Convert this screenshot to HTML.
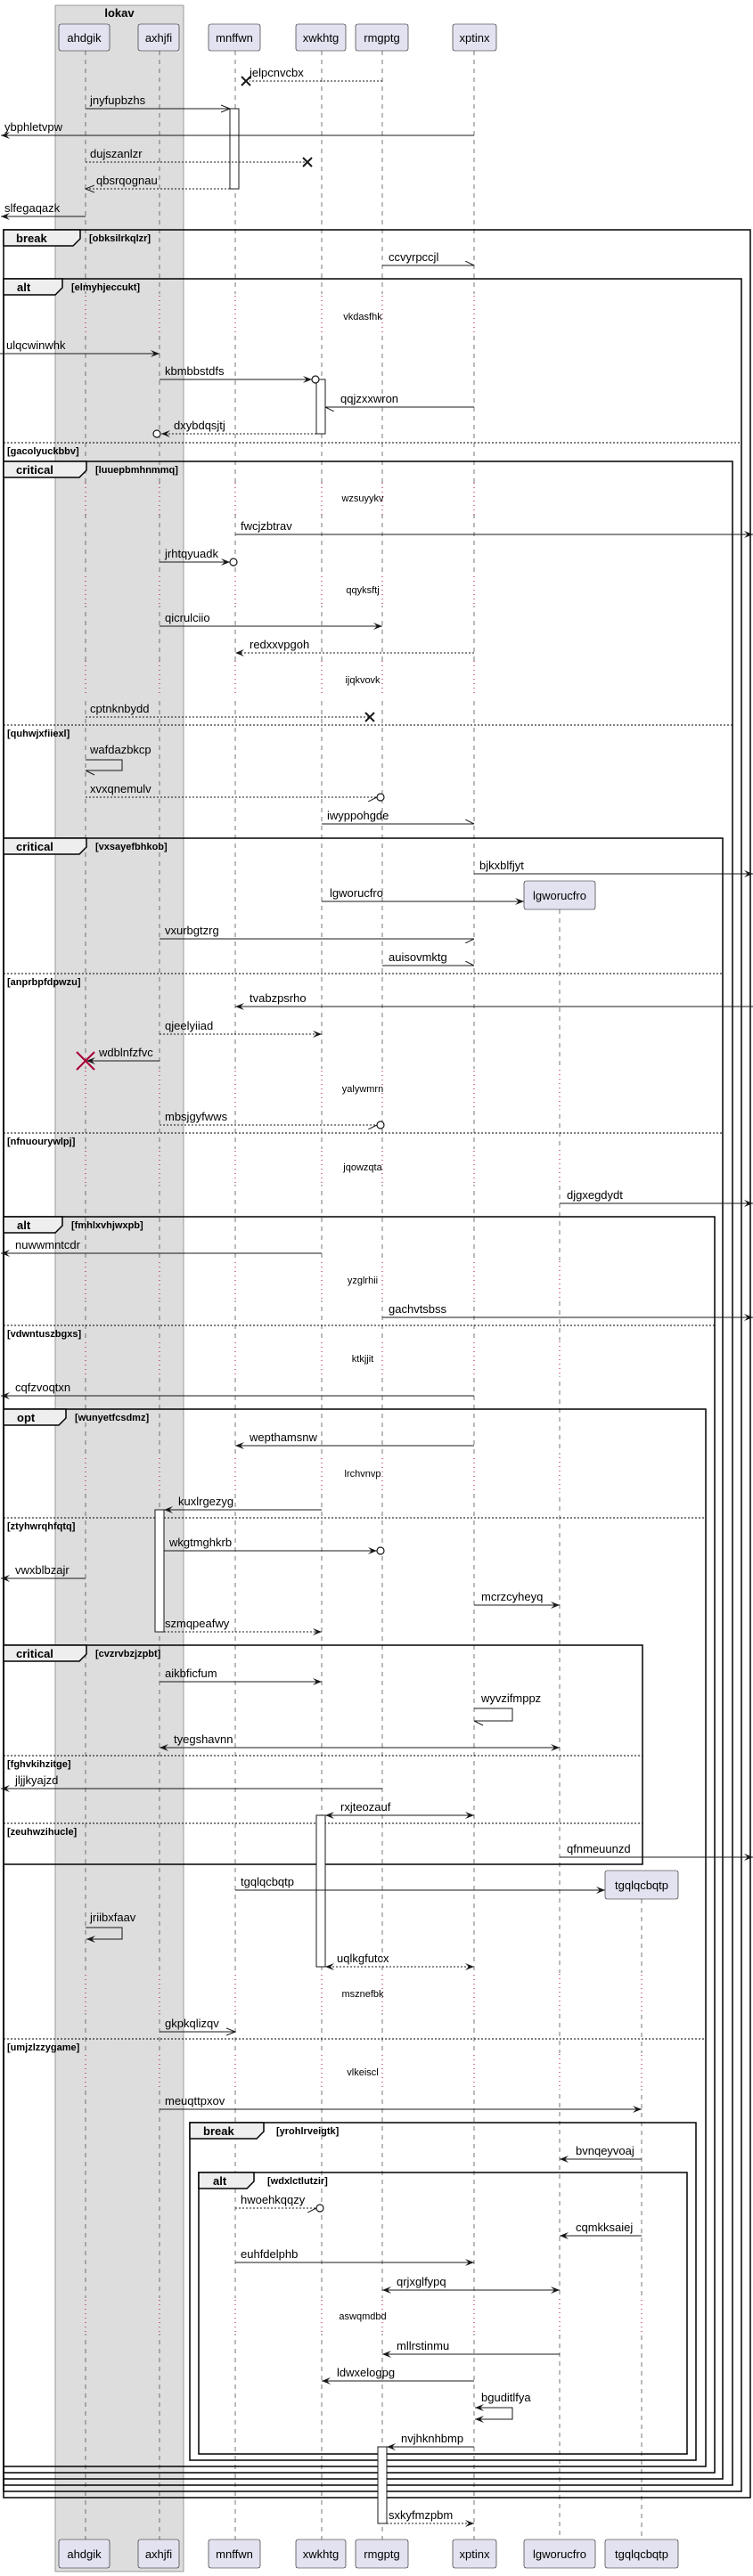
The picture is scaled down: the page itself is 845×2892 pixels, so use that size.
<!DOCTYPE html>
<html><head><meta charset="utf-8"><style>
html,body{margin:0;padding:0;background:#fff}
svg{display:block}
text{font-family:"Liberation Sans",sans-serif;fill:#000}
.m{font-size:13px}
.d{font-size:11px}
.fb{font-size:13px;font-weight:bold}
.fc{font-size:11px;font-weight:bold}
.p{font-size:13px}
.s{stroke:#181818;stroke-width:1;fill:none}
.ds{stroke:#181818;stroke-width:1;fill:none;stroke-dasharray:2,2}
.fr{fill:none;stroke:#000;stroke-width:1.5}
.el{stroke:#000;stroke-width:1;stroke-dasharray:2,2}
.tab{fill:#EEEEEE;stroke:#000;stroke-width:1.5}
.pb{fill:#E2E2F0;stroke:#181818;stroke-width:0.6}
.act{fill:#fff;stroke:#181818;stroke-width:1}
</style></head><body>
<svg width="845" height="2892" viewBox="0 0 845 2892" xmlns="http://www.w3.org/2000/svg">
<defs>
<marker id="fa" markerUnits="userSpaceOnUse" markerWidth="12" markerHeight="10" refX="10" refY="5" orient="auto-start-reverse"><path d="M0,1 L10,5 L0,9 L4,5 Z" fill="#181818"/></marker>
<marker id="oa" markerUnits="userSpaceOnUse" markerWidth="12" markerHeight="10" refX="10" refY="5" orient="auto"><path d="M0,1 L10,5 L0,9" fill="none" stroke="#181818"/></marker>
<marker id="hu" markerUnits="userSpaceOnUse" markerWidth="12" markerHeight="10" refX="10" refY="5" orient="auto"><path d="M0,0 L10,5" fill="none" stroke="#181818"/></marker>
<marker id="hl" markerUnits="userSpaceOnUse" markerWidth="12" markerHeight="10" refX="10" refY="5" orient="auto"><path d="M0,10 L10,5" fill="none" stroke="#181818"/></marker>
<mask id="nod"><rect x="0" y="0" width="845" height="2892" fill="#fff"/>
<g fill="#000">
<rect x="0" y="330" width="845" height="43"/><rect x="0" y="542" width="845" height="36"/><rect x="0" y="643" width="845" height="37"/><rect x="0" y="742" width="845" height="40"/><rect x="0" y="1200" width="845" height="45"/><rect x="0" y="1290" width="845" height="40"/><rect x="0" y="1415" width="845" height="45"/><rect x="0" y="1505" width="845" height="40"/><rect x="0" y="1633" width="845" height="42"/><rect x="0" y="2215" width="845" height="45"/><rect x="0" y="2305" width="845" height="40"/><rect x="0" y="2580" width="845" height="40"/>
</g></mask>
<clipPath id="dly">
<rect x="0" y="330" width="845" height="43"/><rect x="0" y="542" width="845" height="36"/><rect x="0" y="643" width="845" height="37"/><rect x="0" y="742" width="845" height="40"/><rect x="0" y="1200" width="845" height="45"/><rect x="0" y="1290" width="845" height="40"/><rect x="0" y="1415" width="845" height="45"/><rect x="0" y="1505" width="845" height="40"/><rect x="0" y="1633" width="845" height="42"/><rect x="0" y="2215" width="845" height="45"/><rect x="0" y="2305" width="845" height="40"/><rect x="0" y="2580" width="845" height="40"/>
</clipPath>
</defs>

<!-- lokav box -->
<rect x="62" y="6" width="144" height="2881" fill="#DDDDDD" stroke="#888" stroke-width="0.8"/>
<text x="134" y="19" class="fb" text-anchor="middle">lokav</text>

<!-- lifelines dashed -->
<g mask="url(#nod)" stroke="#555" stroke-width="0.8" stroke-dasharray="5,5">
<line x1="96" y1="57" x2="96" y2="2851"/><line x1="179" y1="57" x2="179" y2="2851"/><line x1="264" y1="57" x2="264" y2="2851"/><line x1="361" y1="57" x2="361" y2="2851"/><line x1="429" y1="57" x2="429" y2="2851"/><line x1="532" y1="57" x2="532" y2="2851"/><line x1="628" y1="1021" x2="628" y2="2851"/><line x1="720" y1="2132" x2="720" y2="2851"/>
</g>
<g clip-path="url(#dly)" stroke="#A80036" stroke-width="1" stroke-dasharray="1,4">
<line x1="96" y1="57" x2="96" y2="2851"/><line x1="179" y1="57" x2="179" y2="2851"/><line x1="264" y1="57" x2="264" y2="2851"/><line x1="361" y1="57" x2="361" y2="2851"/><line x1="429" y1="57" x2="429" y2="2851"/><line x1="532" y1="57" x2="532" y2="2851"/><line x1="628" y1="1021" x2="628" y2="2851"/><line x1="720" y1="2132" x2="720" y2="2851"/>
</g>

<!-- delay texts -->
<g class="d" text-anchor="middle">
<text x="407" y="359" class="d">vkdasfhk</text><text x="407" y="563" class="d">wzsuyykv</text><text x="407" y="666" class="d">qqyksftj</text><text x="407" y="767" class="d">ijqkvovk</text><text x="407" y="1226" class="d">yalywmrn</text><text x="407" y="1314" class="d">jqowzqta</text><text x="407" y="1441" class="d">yzglrhii</text><text x="407" y="1529" class="d">ktkjjit</text><text x="407" y="1658" class="d">lrchvnvp</text><text x="407" y="2242" class="d">msznefbk</text><text x="407" y="2330" class="d">vlkeiscl</text><text x="407" y="2604" class="d">aswqmdbd</text>
</g>

<!-- participant boxes top -->
<g>
<rect class="pb" x="66" y="27" width="57" height="30" rx="2.5"/><text class="p" x="94.5" y="47" text-anchor="middle">ahdgik</text>
<rect class="pb" x="155" y="27" width="46" height="30" rx="2.5"/><text class="p" x="178" y="47" text-anchor="middle">axhjfi</text>
<rect class="pb" x="234" y="27" width="58" height="30" rx="2.5"/><text class="p" x="263" y="47" text-anchor="middle">mnffwn</text>
<rect class="pb" x="332" y="27" width="56" height="30" rx="2.5"/><text class="p" x="360" y="47" text-anchor="middle">xwkhtg</text>
<rect class="pb" x="399" y="27" width="59" height="30" rx="2.5"/><text class="p" x="428.5" y="47" text-anchor="middle">rmgptg</text>
<rect class="pb" x="508" y="27" width="49" height="30" rx="2.5"/><text class="p" x="532.5" y="47" text-anchor="middle">xptinx</text>
</g>
<!-- created boxes -->
<rect class="pb" x="588" y="989" width="80" height="32" rx="2.5"/><text class="p" x="628" y="1010" text-anchor="middle">lgworucfro</text>
<rect class="pb" x="679" y="2100" width="82" height="32" rx="2.5"/><text class="p" x="720" y="2121" text-anchor="middle">tgqlqcbqtp</text>
<!-- bottom boxes -->
<g>
<rect class="pb" x="66" y="2851" width="57" height="32" rx="2.5"/><text class="p" x="94.5" y="2872" text-anchor="middle">ahdgik</text>
<rect class="pb" x="155" y="2851" width="46" height="32" rx="2.5"/><text class="p" x="178" y="2872" text-anchor="middle">axhjfi</text>
<rect class="pb" x="234" y="2851" width="58" height="32" rx="2.5"/><text class="p" x="263" y="2872" text-anchor="middle">mnffwn</text>
<rect class="pb" x="332" y="2851" width="56" height="32" rx="2.5"/><text class="p" x="360" y="2872" text-anchor="middle">xwkhtg</text>
<rect class="pb" x="399" y="2851" width="59" height="32" rx="2.5"/><text class="p" x="428.5" y="2872" text-anchor="middle">rmgptg</text>
<rect class="pb" x="508" y="2851" width="49" height="32" rx="2.5"/><text class="p" x="532.5" y="2872" text-anchor="middle">xptinx</text>
<rect class="pb" x="588" y="2851" width="80" height="32" rx="2.5"/><text class="p" x="628" y="2872" text-anchor="middle">lgworucfro</text>
<rect class="pb" x="679" y="2851" width="82" height="32" rx="2.5"/><text class="p" x="720" y="2872" text-anchor="middle">tgqlqcbqtp</text>
</g>

<!-- frames -->
<g>
<rect class="fr" x="4" y="258" width="838" height="2546"/>
<polygon class="tab" points="4,258 90,258 90,268 82,276 4,276"/><text class="fb" x="18" y="272">break</text><text class="fc" x="100" y="271">[obksilrkqlzr]</text>

<rect class="fr" x="4" y="313" width="828" height="2484"/>
<polygon class="tab" points="4,313 70,313 70,323 62,331 4,331"/><text class="fb" x="19" y="327">alt</text><text class="fc" x="80" y="326">[elmyhjeccukt]</text>
<line class="el" x1="4" y1="497" x2="832" y2="497"/><text class="fc" x="8" y="510">[gacolyuckbbv]</text>

<rect class="fr" x="4" y="518" width="818" height="2272"/>
<polygon class="tab" points="4,518 97,518 97,528 89,536 4,536"/><text class="fb" x="18" y="532">critical</text><text class="fc" x="107" y="531">[luuepbmhnmmq]</text>
<line class="el" x1="4" y1="814" x2="822" y2="814"/><text class="fc" x="8" y="827">[quhwjxfiiexl]</text>

<rect class="fr" x="4" y="941" width="807" height="1842"/>
<polygon class="tab" points="4,941 97,941 97,951 89,959 4,959"/><text class="fb" x="18" y="955">critical</text><text class="fc" x="107" y="954">[vxsayefbhkob]</text>
<line class="el" x1="4" y1="1093" x2="811" y2="1093"/><text class="fc" x="8" y="1106">[anprbpfdpwzu]</text>
<line class="el" x1="4" y1="1272" x2="811" y2="1272"/><text class="fc" x="8" y="1285">[nfnuourywlpj]</text>

<rect class="fr" x="4" y="1366" width="798" height="1410"/>
<polygon class="tab" points="4,1366 70,1366 70,1376 62,1384 4,1384"/><text class="fb" x="19" y="1380">alt</text><text class="fc" x="80" y="1379">[fmhlxvhjwxpb]</text>
<line class="el" x1="4" y1="1488" x2="802" y2="1488"/><text class="fc" x="8" y="1501">[vdwntuszbgxs]</text>

<rect class="fr" x="4" y="1582" width="788" height="1187"/>
<polygon class="tab" points="4,1582 74,1582 74,1592 66,1600 4,1600"/><text class="fb" x="19" y="1596">opt</text><text class="fc" x="84" y="1595">[wunyetfcsdmz]</text>
<line class="el" x1="4" y1="1704" x2="792" y2="1704"/><text class="fc" x="8" y="1717">[ztyhwrqhfqtq]</text>
<line class="el" x1="4" y1="2289" x2="792" y2="2289"/><text class="fc" x="8" y="2302">[umjzlzzygame]</text>

<rect class="fr" x="4" y="1847" width="717" height="246"/>
<polygon class="tab" points="4,1847 97,1847 97,1857 89,1865 4,1865"/><text class="fb" x="18" y="1861">critical</text><text class="fc" x="107" y="1860">[cvzrvbzjzpbt]</text>
<line class="el" x1="4" y1="1971" x2="721" y2="1971"/><text class="fc" x="8" y="1984">[fghvkihzitge]</text>
<line class="el" x1="4" y1="2047" x2="721" y2="2047"/><text class="fc" x="8" y="2060">[zeuhwzihucle]</text>

<rect class="fr" x="213" y="2383" width="568" height="379"/>
<polygon class="tab" points="213,2383 296,2383 296,2393 288,2401 213,2401"/><text class="fb" x="228" y="2397">break</text><text class="fc" x="310" y="2396">[yrohlrveigtk]</text>

<rect class="fr" x="223" y="2439" width="548" height="316"/>
<polygon class="tab" points="223,2439 285,2439 285,2449 277,2457 223,2457"/><text class="fb" x="239" y="2453">alt</text><text class="fc" x="300" y="2452">[wdxlctlutzir]</text>
</g>

<!-- activations -->
<rect class="act" x="258" y="122" width="10" height="90"/>
<rect class="act" x="355" y="426" width="10" height="61"/>
<rect class="act" x="174" y="1695" width="10" height="137"/>
<rect class="act" x="355" y="2038" width="10" height="170"/>
<rect class="act" x="424" y="2747" width="10" height="86"/>

<!-- messages -->
<g class="m">
<line class="ds" x1="429" y1="91" x2="280" y2="91"/><path d="M271,86 L281,96 M271,96 L281,86" stroke="#181818" stroke-width="2"/><text x="280" y="86">jelpcnvcbx</text>
<line class="s" x1="96" y1="122" x2="258" y2="122" marker-end="url(#oa)"/><text x="101" y="117">jnyfupbzhs</text>
<line class="s" x1="532" y1="152" x2="1" y2="152" marker-end="url(#fa)"/><text x="5" y="147">ybphletvpw</text>
<line class="ds" x1="96" y1="182" x2="345" y2="182"/><path d="M340,177 L350,187 M340,187 L350,177" stroke="#181818" stroke-width="2"/><text x="101" y="177">dujszanlzr</text>
<line class="ds" x1="258" y1="212" x2="96" y2="212" marker-end="url(#oa)"/><text x="108" y="207">qbsrqognau</text>
<line class="s" x1="96" y1="243" x2="1" y2="243" marker-end="url(#fa)"/><text x="5" y="238">slfegaqazk</text>
<line class="s" x1="429" y1="298" x2="532" y2="298" marker-end="url(#hu)"/><text x="436" y="293">ccvyrpccjl</text>
<line class="s" x1="0" y1="397" x2="179" y2="397" marker-end="url(#fa)"/><text x="7" y="392">ulqcwinwhk</text>
<line class="s" x1="179" y1="426" x2="350" y2="426" marker-end="url(#fa)"/><circle cx="354" cy="426" r="4" fill="#fff" stroke="#181818" stroke-width="1.2"/><text x="185" y="421">kbmbbstdfs</text>
<line class="s" x1="532" y1="457" x2="365" y2="457" marker-end="url(#hu)"/><text x="382" y="452">qqjzxxwron</text>
<line class="ds" x1="355" y1="487" x2="181" y2="487" marker-end="url(#fa)"/><circle cx="176" cy="487" r="4" fill="#fff" stroke="#181818" stroke-width="1.2"/><text x="195" y="482">dxybdqsjtj</text>
<line class="s" x1="264" y1="600" x2="845" y2="600" marker-end="url(#fa)"/><text x="270" y="595">fwcjzbtrav</text>
<line class="s" x1="179" y1="631" x2="258" y2="631" marker-end="url(#fa)"/><circle cx="262" cy="631" r="4" fill="#fff" stroke="#181818" stroke-width="1.2"/><text x="185" y="626">jrhtqyuadk</text>
<line class="s" x1="179" y1="703" x2="429" y2="703" marker-end="url(#fa)"/><text x="185" y="698">qicrulciio</text>
<line class="ds" x1="532" y1="733" x2="264" y2="733" marker-end="url(#fa)"/><text x="280" y="728">redxxvpgoh</text>
<line class="ds" x1="96" y1="805" x2="415" y2="805"/><path d="M410,800 L420,810 M410,810 L420,800" stroke="#181818" stroke-width="2"/><text x="101" y="800">cptnknbydd</text>
<polyline class="s" points="96,853 137,853 137,865 96,865"/><path d="M96,865 L106,870" stroke="#181818"/><text x="101" y="846">wafdazbkcp</text>
<line class="ds" x1="96" y1="895" x2="423" y2="895" marker-end="url(#hl)"/><circle cx="427" cy="895" r="4" fill="#fff" stroke="#181818" stroke-width="1.2"/><text x="101" y="890">xvxqnemulv</text>
<line class="s" x1="361" y1="925" x2="532" y2="925" marker-end="url(#hu)"/><text x="367" y="920">iwyppohgde</text>
<line class="s" x1="532" y1="981" x2="845" y2="981" marker-end="url(#fa)"/><text x="538" y="976">bjkxblfjyt</text>
<line class="s" x1="361" y1="1012" x2="588" y2="1012" marker-end="url(#fa)"/><text x="370" y="1007">lgworucfro</text>
<line class="s" x1="179" y1="1054" x2="532" y2="1054" marker-end="url(#hl)"/><text x="185" y="1049">vxurbgtzrg</text>
<line class="s" x1="429" y1="1084" x2="532" y2="1084" marker-end="url(#hu)"/><text x="436" y="1079">auisovmktg</text>
<line class="s" x1="845" y1="1130" x2="264" y2="1130" marker-end="url(#fa)"/><text x="280" y="1125">tvabzpsrho</text>
<line class="ds" x1="179" y1="1161" x2="361" y2="1161" marker-end="url(#fa)"/><text x="185" y="1156">qjeelyiiad</text>
<line class="s" x1="179" y1="1191" x2="97" y2="1191" marker-end="url(#fa)"/><path d="M86,1181 L106,1201 M86,1201 L106,1181" stroke="#A80036" stroke-width="2"/><text x="111" y="1186">wdblnfzfvc</text>
<line class="ds" x1="179" y1="1263" x2="423" y2="1263" marker-end="url(#hl)"/><circle cx="427" cy="1263" r="4" fill="#fff" stroke="#181818" stroke-width="1.2"/><text x="185" y="1258">mbsjgyfwws</text>
<line class="s" x1="628" y1="1351" x2="845" y2="1351" marker-end="url(#fa)"/><text x="636" y="1346">djgxegdydt</text>
<line class="s" x1="361" y1="1407" x2="1" y2="1407" marker-end="url(#fa)"/><text x="17" y="1402">nuwwmntcdr</text>
<line class="s" x1="429" y1="1479" x2="845" y2="1479" marker-end="url(#fa)"/><text x="436" y="1474">gachvtsbss</text>
<line class="s" x1="532" y1="1567" x2="1" y2="1567" marker-end="url(#fa)"/><text x="17" y="1562">cqfzvoqtxn</text>
<line class="s" x1="532" y1="1623" x2="264" y2="1623" marker-end="url(#fa)"/><text x="280" y="1618">wepthamsnw</text>
<line class="s" x1="361" y1="1695" x2="184" y2="1695" marker-end="url(#fa)"/><text x="200" y="1690">kuxlrgezyg</text>
<line class="s" x1="184" y1="1741" x2="423" y2="1741" marker-end="url(#fa)"/><circle cx="427" cy="1741" r="4" fill="#fff" stroke="#181818" stroke-width="1.2"/><text x="190" y="1736">wkgtmghkrb</text>
<line class="s" x1="96" y1="1772" x2="1" y2="1772" marker-end="url(#fa)"/><text x="17" y="1767">vwxblbzajr</text>
<line class="s" x1="532" y1="1802" x2="628" y2="1802" marker-end="url(#fa)"/><text x="540" y="1797">mcrzcyheyq</text>
<line class="ds" x1="184" y1="1832" x2="361" y2="1832" marker-end="url(#fa)"/><text x="185" y="1827">szmqpeafwy</text>
<line class="s" x1="179" y1="1888" x2="361" y2="1888" marker-end="url(#fa)"/><text x="185" y="1883">aikbficfum</text>
<polyline class="s" points="532,1918 575,1918 575,1932 532,1932"/><path d="M532,1932 L542,1937" stroke="#181818"/><text x="540" y="1911">wyvzifmppz</text>
<line class="s" x1="179" y1="1962" x2="628" y2="1962" marker-start="url(#fa)" marker-end="url(#fa)"/><text x="195" y="1957">tyegshavnn</text>
<line class="s" x1="429" y1="2008" x2="1" y2="2008" marker-end="url(#fa)"/><text x="17" y="2003">jljjkyajzd</text>
<line class="s" x1="365" y1="2038" x2="532" y2="2038" marker-start="url(#fa)" marker-end="url(#fa)"/><text x="382" y="2033">rxjteozauf</text>
<line class="s" x1="628" y1="2085" x2="845" y2="2085" marker-end="url(#fa)"/><text x="636" y="2080">qfnmeuunzd</text>
<line class="s" x1="264" y1="2122" x2="679" y2="2122" marker-end="url(#fa)"/><text x="270" y="2117">tgqlqcbqtp</text>
<polyline class="s" points="96,2164 137,2164 137,2177 97,2177" marker-end="url(#fa)"/><text x="101" y="2157">jriibxfaav</text>
<line class="ds" x1="365" y1="2208" x2="532" y2="2208" marker-start="url(#fa)" marker-end="url(#fa)"/><text x="378" y="2203">uqlkgfutcx</text>
<line class="s" x1="179" y1="2281" x2="264" y2="2281" marker-end="url(#oa)"/><text x="185" y="2276">gkpkqlizqv</text>
<line class="s" x1="179" y1="2368" x2="720" y2="2368" marker-end="url(#fa)"/><text x="185" y="2363">meuqttpxov</text>
<line class="s" x1="720" y1="2424" x2="628" y2="2424" marker-end="url(#fa)"/><text x="646" y="2419">bvnqeyvoaj</text>
<line class="ds" x1="264" y1="2479" x2="355" y2="2479" marker-end="url(#hl)"/><circle cx="359" cy="2479" r="4" fill="#fff" stroke="#181818" stroke-width="1.2"/><text x="270" y="2474">hwoehkqqzy</text>
<line class="s" x1="720" y1="2510" x2="628" y2="2510" marker-end="url(#fa)"/><text x="646" y="2505">cqmkksaiej</text>
<line class="s" x1="264" y1="2540" x2="532" y2="2540" marker-end="url(#fa)"/><text x="270" y="2535">euhfdelphb</text>
<line class="s" x1="429" y1="2571" x2="628" y2="2571" marker-start="url(#fa)" marker-end="url(#fa)"/><text x="445" y="2566">qrjxglfypq</text>
<line class="s" x1="628" y1="2643" x2="429" y2="2643" marker-end="url(#fa)"/><text x="445" y="2638">mllrstinmu</text>
<line class="s" x1="532" y1="2673" x2="361" y2="2673" marker-end="url(#fa)"/><text x="378" y="2668">ldwxelogpg</text>
<polyline class="s" points="533,2703 575,2703 575,2716 533,2716" marker-start="url(#fa)" marker-end="url(#fa)"/><text x="540" y="2696">bguditlfya</text>
<line class="s" x1="532" y1="2747" x2="434" y2="2747" marker-end="url(#fa)"/><text x="450" y="2742">nvjhknhbmp</text>
<line class="ds" x1="434" y1="2833" x2="532" y2="2833" marker-end="url(#fa)"/><text x="436" y="2828">sxkyfmzpbm</text>
</g>
</svg>
</body></html>
